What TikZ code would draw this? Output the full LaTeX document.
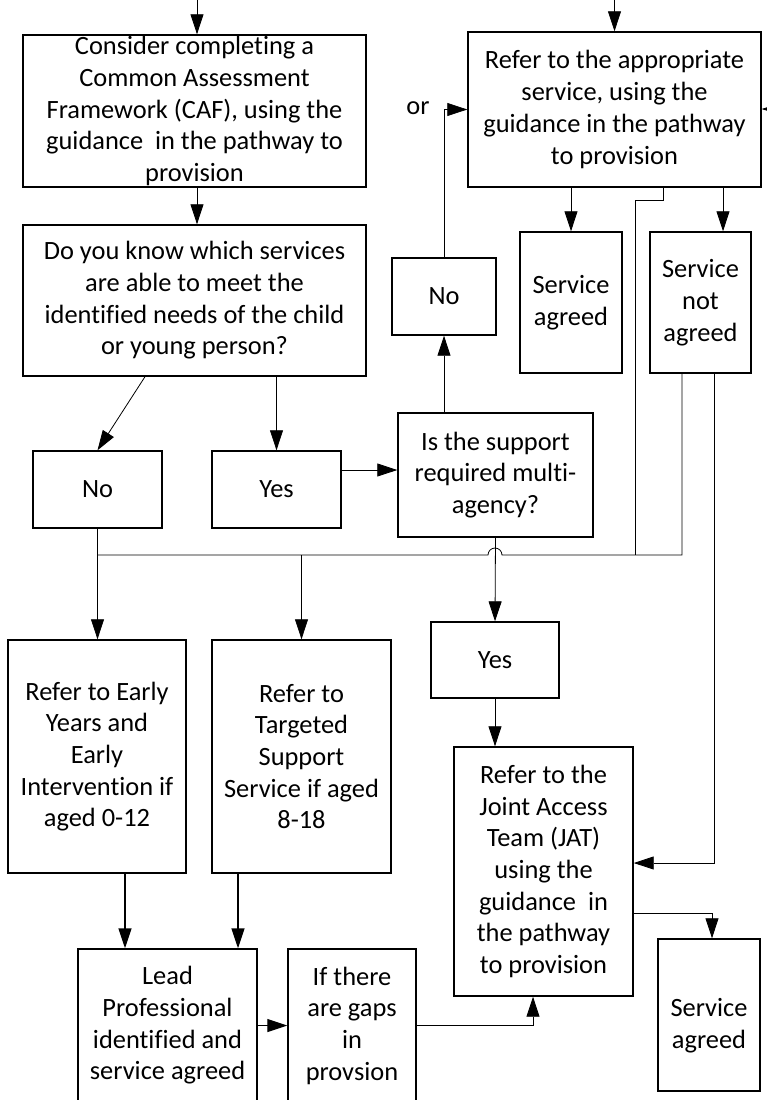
\documentclass[tikz,border=0pt]{standalone}
\usepackage{fontspec}
\setmainfont{Carlito}[Ligatures={NoCommon}]
\usetikzlibrary{arrows.meta}
\begin{document}
\begin{tikzpicture}[x=1pt,y=-1pt,
  box/.style={draw,line width=1.4pt,inner sep=0pt,align=center,font=\fontsize{26.4}{31.7}\selectfont},
  txt/.style={inner sep=0pt,align=center,font=\fontsize{26.4}{31.7}\selectfont},
  conn/.style={line width=0.8pt,-{Triangle[length=20pt,width=13pt]}},
  plain/.style={line width=0.8pt},
  heavyarrow/.style={line width=1.6pt,-{Triangle[length=20pt,width=13pt]}}]
\useasboundingbox (0,0) rectangle (767,1100);
\clip (0,0) rectangle (767,1100);

% boxes
\node[box,minimum width=343pt,minimum height=152pt] (caf) at (194.5,111) {Consider completing a\\Common Assessment\\Framework (CAF), using the\\guidance\ \ in the pathway to\\provision};
\node[box,minimum width=343pt,minimum height=151pt] (q) at (194.5,300.5) {Do you know which services\\are able to meet the\\identified needs of the child\\or young person?};
\node[box,minimum width=293pt,minimum height=155pt] (ref) at (614.5,109.5) {Refer to the appropriate\\service, using the\\guidance in the pathway\\to provision};
\node[box,minimum width=102pt,minimum height=141pt] (sa1) at (571,302.5) {Service\\agreed};
\node[box,minimum width=101pt,minimum height=141pt] (sna) at (700.5,302.5) {Service\\not\\agreed};
\node[box,minimum width=104pt,minimum height=77pt] (no2) at (444,296.5) {No};
\node[box,minimum width=129pt,minimum height=77pt] (no1) at (97.5,489.5) {No};
\node[box,minimum width=129pt,minimum height=77pt] (yes1) at (276.5,489.5) {Yes};
\node[box,minimum width=195pt,minimum height=124pt] (multi) at (495.5,475) {Is the support\\required multi-\\agency?};
\node[box,minimum width=128pt,minimum height=76pt] (yes2) at (495,660) {Yes};
\node[box,minimum width=178pt,minimum height=233pt] (early) at (97,756.5) {Refer to Early\\Years and\\Early\\Intervention if\\aged 0-12};
\node[box,minimum width=179pt,minimum height=233pt] (targ) at (301.5,756.5) {Refer to\\Targeted\\Support\\Service if aged\\8-18};
\node[box,minimum width=179pt,minimum height=249pt] (jat) at (543.5,871.5) {Refer to the\\Joint Access\\Team (JAT)\\using the\\guidance\ \ in\\the pathway\\to provision};
\node[box,minimum width=102pt,minimum height=152pt] (sa2) at (709,1015) {};
\node[txt] (sa2t) at (709,1026) {Service\\agreed};
\node[box,minimum width=179pt,minimum height=153pt] (lead) at (167.5,1025.5) {Lead\\Professional\\identified and\\service agreed};
\node[box,minimum width=128pt,minimum height=153pt] (gaps) at (352,1025.5) {If there\\are gaps\\in\\provsion};
\node[txt] (or) at (418,108) {or};

% helper coordinates
\coordinate (top) at (0,-2);
\coordinate (bus) at (0,555);
\coordinate (hopR) at (502,555);
\coordinate (rightin) at (790,109);
\coordinate (cafin) at ([xshift=2.5pt]caf.north);
\coordinate (snain) at ([xshift=22.5pt]sna.north);
\coordinate (refout) at ([xshift=48.5pt]ref.south);
\coordinate (refbus) at (635,555);
\coordinate (snaL) at ([xshift=-18.5pt]sna.south);
\coordinate (snaR) at ([xshift=13.5pt]sna.south);
\coordinate (qno) at ([xshift=-49.5pt]q.south);
\coordinate (yesout) at ([yshift=19.5pt]yes1.east);
\coordinate (earlyout) at ([xshift=28pt]early.south);
\coordinate (targout) at ([xshift=-63.5pt]targ.south);
\coordinate (jatin) at ([xshift=-10.5pt]jat.south);
\coordinate (jatR1) at ([yshift=8.5pt]jat.east);
\coordinate (jatR2) at ([yshift=-41.5pt]jat.east);
\coordinate (sa2in) at ([xshift=3pt]sa2.north);

% connectors
\draw[conn] (cafin |- top) -- (cafin);
\draw[conn] (ref.north |- top) -- (ref.north);
\draw[conn] (rightin) -- (rightin -| ref.east);
\draw[conn] (caf.south -| cafin) -- (q.north -| cafin);
\draw[conn] (ref.south -| sa1.north) -- (sa1.north);
\draw[conn] (ref.south -| snain) -- (snain);
\draw[plain] (refout) -- ++(0,13) -| (refbus);
\draw[plain] (snaL) -- (snaL |- bus) -- (hopR) arc[start angle=0,end angle=-180,radius=7] -- (no1.south |- bus) -- (no1.south);
\draw[conn] (no1.south) -- (no1.south |- early.north);
\draw[conn] (targ.north |- bus) -- (targ.north);
\draw[conn] (qno) -- (no1.north);
\draw[conn] (q.south -| yes1.north) -- (yes1.north);
\draw[conn] (yesout) -- (yesout -| multi.west);
\draw[conn] (multi.north -| no2.south) -- (no2.south);
\draw[conn] (no2.north) |- (ref.west);
\draw[conn] (multi.south) -- (yes2.north);
\draw[conn] (yes2.south) -- (yes2.south |- jat.north);
\draw[conn] (snaR) |- (jatR1);
\draw[conn] (jatR2) -| (sa2in);
\draw[heavyarrow] (earlyout) -- (earlyout |- lead.north);
\draw[heavyarrow] (targout) -- (targout |- lead.north);
\draw[conn,line width=1.1pt] (lead.east) -- (gaps.west);
\draw[conn] (gaps.east) -| (jatin);
\end{tikzpicture}
\end{document}
